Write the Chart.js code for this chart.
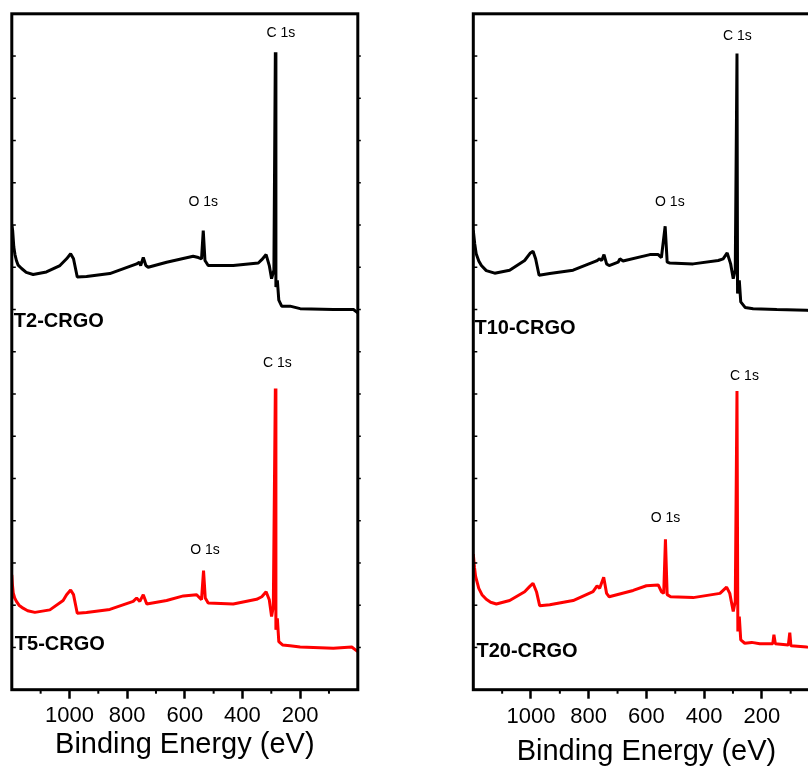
<!DOCTYPE html>
<html>
<head>
<meta charset="utf-8">
<script src="https://cdn.jsdelivr.net/npm/chart.js@4.4.1/dist/chart.umd.min.js"></script>
<style>
  html, body { margin:0; padding:0; background:#fff; width:808px; height:767px; overflow:hidden; }
  canvas { position:absolute; top:0; }
  #c1 { left:0; }
  #c2 { left:461px; }
</style>
</head>
<body>
<canvas id="c1" width="460" height="767"></canvas>
<canvas id="c2" width="460" height="767"></canvas>
<script>
// ---------- data ----------
const xTickLabels = [1000, 800, 600, 400, 200];
const xMinorTicks = [1100, 900, 700, 500, 300, 100];
const xTitle = 'Binding Energy (eV)';

const t2Energy = [1200,1197,1193,1189,1184,1178,1166,1150,1126,1080,1033,1010,996,986,973,941,860,767,758,753,744,735,727,663,571,553,542,536,530,519,432,345,333,318,307,299,291,286,284,279,274,264,235,200,85,15,0];
const t2Intensity = [11.0,10.87,10.48,10.3,10.16,10.05,9.97,9.88,9.83,9.89,10.04,10.2,10.32,10.2,9.77,9.78,9.85,10.08,10.12,10.04,10.23,10.04,10.0,10.12,10.26,10.23,10.2,10.87,10.16,10.04,10.04,10.1,10.18,10.3,10.04,9.73,9.93,15.09,9.53,9.69,9.22,9.08,9.08,9.02,9.0,9.0,8.92];

const t5Energy = [1200,1198,1195,1190,1184,1175,1161,1145,1120,1068,1022,1010,996,986,973,941,860,779,767,756,744,732,663,605,559,548,542,535,529,519,432,351,333,318,307,299,293,286,284,279,274,261,235,200,85,21,0];
const t5Intensity = [2.72,2.5,2.29,2.17,2.09,2.0,1.93,1.87,1.83,1.89,2.11,2.25,2.36,2.25,1.81,1.83,1.9,2.09,2.17,2.09,2.25,2.03,2.11,2.22,2.25,2.17,2.13,2.82,2.17,2.05,2.03,2.14,2.2,2.32,2.13,1.73,1.97,7.13,1.42,1.69,1.14,1.06,1.04,1.01,0.98,1.01,0.9];

const t10Energy = [1200,1195,1190,1181,1172,1155,1126,1074,1022,1002,993,984,972,935,854,773,762,755,747,738,729,698,692,681,588,559,548,535,528,519,438,351,334,320,308,299,292,286,284,278,273,258,230,148,44,0];
const t10Intensity = [10.87,10.55,10.32,10.15,10.04,9.92,9.86,9.93,10.16,10.34,10.38,10.2,9.81,9.85,9.93,10.15,10.2,10.16,10.3,10.08,10.04,10.12,10.2,10.15,10.3,10.3,10.23,10.97,10.12,10.1,10.08,10.16,10.2,10.34,10.08,9.73,9.93,15.06,9.38,9.69,9.18,9.05,9.02,9.0,8.98,8.95];

const t20Energy = [1200,1196,1192,1181,1170,1155,1140,1120,1074,1022,1005,993,981,970,935,854,785,771,762,748,738,729,646,600,559,548,540,534,528,516,438,345,322,311,299,292,286,283,278,273,259,235,207,162,158,153,108,103,99,44,0];
const t20Intensity = [3.21,2.9,2.68,2.4,2.25,2.14,2.07,2.03,2.11,2.32,2.44,2.52,2.32,1.99,2.01,2.11,2.32,2.46,2.4,2.66,2.28,2.2,2.35,2.46,2.48,2.32,2.28,3.56,2.25,2.2,2.18,2.28,2.43,2.28,1.85,2.09,7.07,1.38,1.73,1.18,1.1,1.12,1.09,1.09,1.3,1.09,1.06,1.35,1.04,1.01,1.0];

// text labels (energy, intensity) in data units
const leftPeakLabels = [
  { text: 'C 1s', x: 267, y: 15.54 },
  { text: 'O 1s', x: 536, y: 11.53 },
  { text: 'C 1s', x: 278.6, y: 7.72 },
  { text: 'O 1s', x: 530, y: 3.31 }
];
const leftSampleLabels = [
  { text: 'T2-CRGO', x: 1193, y: 8.71 },
  { text: 'T5-CRGO', x: 1189.5, y: 1.06 }
];
const rightPeakLabels = [
  { text: 'C 1s', x: 284.5, y: 15.48 },
  { text: 'O 1s', x: 518.7, y: 11.53 },
  { text: 'C 1s', x: 260, y: 7.42 },
  { text: 'O 1s', x: 533.7, y: 4.06 }
];
const rightSampleLabels = [
  { text: 'T10-CRGO', x: 1196, y: 8.56 },
  { text: 'T20-CRGO', x: 1189, y: 0.9 }
];

// ---------- drawing ----------
const FONT = '"Liberation Sans", Arial, Helvetica, sans-serif';

function series(energy, intensity) {
  return energy.map((e, i) => ({ x: e, y: intensity[i] }));
}

const framePlugin = {
  id: 'frame',
  afterDatasetsDraw(chart) {
    const { ctx, chartArea: a, scales: { x, y } } = chart;
    const cfg = chart.options.plugins.frame;
    ctx.save();
    ctx.strokeStyle = '#000';
    // minor x ticks
    ctx.lineWidth = 2;
    xMinorTicks.forEach(v => {
      const px = x.getPixelForValue(v);
      ctx.beginPath(); ctx.moveTo(px, a.bottom); ctx.lineTo(px, a.bottom + 4); ctx.stroke();
    });
    // small y ticks
    ctx.lineWidth = 1.5;
    for (let k = 1; k < 16; k++) {
      const py = y.getPixelForValue(k);
      ctx.beginPath(); ctx.moveTo(a.left, py); ctx.lineTo(a.left + 4, py); ctx.stroke();
      ctx.beginPath(); ctx.moveTo(a.right, py); ctx.lineTo(a.right + 3, py); ctx.stroke();
    }
    // frame
    ctx.lineWidth = 3;
    ctx.strokeRect(a.left, a.top, a.right - a.left, a.bottom - a.top);
    // labels
    ctx.fillStyle = '#000';
    ctx.textBaseline = 'middle';
    ctx.font = '14px ' + FONT;
    ctx.textAlign = 'center';
    cfg.peaks.forEach(l => ctx.fillText(l.text, x.getPixelForValue(l.x), y.getPixelForValue(l.y)));
    ctx.font = 'bold 20px ' + FONT;
    ctx.textAlign = 'left';
    cfg.samples.forEach(l => ctx.fillText(l.text, x.getPixelForValue(l.x), y.getPixelForValue(l.y)));
    ctx.restore();
  }
};

function makeChart(id, sets, peaks, samples, pad, titlePad, tickPad) {
  return new Chart(document.getElementById(id), {
    type: 'line',
    data: {
      datasets: sets.map(s => ({
        data: s.data,
        borderColor: s.color,
        borderWidth: 3,
        pointRadius: 0,
        tension: 0,
        fill: false,
        borderJoinStyle: 'bevel'
      }))
    },
    options: {
      responsive: false,
      animation: false,
      devicePixelRatio: 1,
      layout: { padding: pad },
      plugins: {
        legend: { display: false },
        tooltip: { enabled: false },
        frame: { peaks, samples }
      },
      scales: {
        x: {
          type: 'linear',
          reverse: true,
          min: 0,
          max: 1200,
          afterBuildTicks: s => { s.ticks = xTickLabels.map(v => ({ value: v })); },
          afterFit: s => { s.height = 77.3; },
          border: { display: false },
          grid: { drawOnChartArea: false, drawTicks: true, tickLength: 9, tickWidth: 2.5, tickColor: '#000' },
          ticks: {
            color: '#000', autoSkip: false, maxRotation: 0, padding: tickPad,
            font: { family: FONT, size: 22 },
            callback: v => String(v)
          },
          title: {
            display: true, text: xTitle, color: '#000',
            font: { family: FONT, size: 29, lineHeight: 1 },
            padding: { top: 0, bottom: titlePad }
          }
        },
        y: { type: 'linear', display: false, min: 0, max: 16 }
      }
    },
    plugins: [framePlugin]
  });
}

makeChart('c1',
  [ { data: series(t2Energy, t2Intensity), color: '#000000' },
    { data: series(t5Energy, t5Intensity), color: '#ff0000' } ],
  leftPeakLabels, leftSampleLabels,
  { left: 11.8, top: 13.8, right: 102.2, bottom: 0 }, 7.2, 4);

makeChart('c2',
  [ { data: series(t10Energy, t10Intensity), color: '#000000' },
    { data: series(t20Energy, t20Intensity), color: '#ff0000' } ],
  rightPeakLabels, rightSampleLabels,
  { left: 12.3, top: 13.8, right: 101.5, bottom: 0 }, 0.5, 5.5);
</script>
</body>
</html>
